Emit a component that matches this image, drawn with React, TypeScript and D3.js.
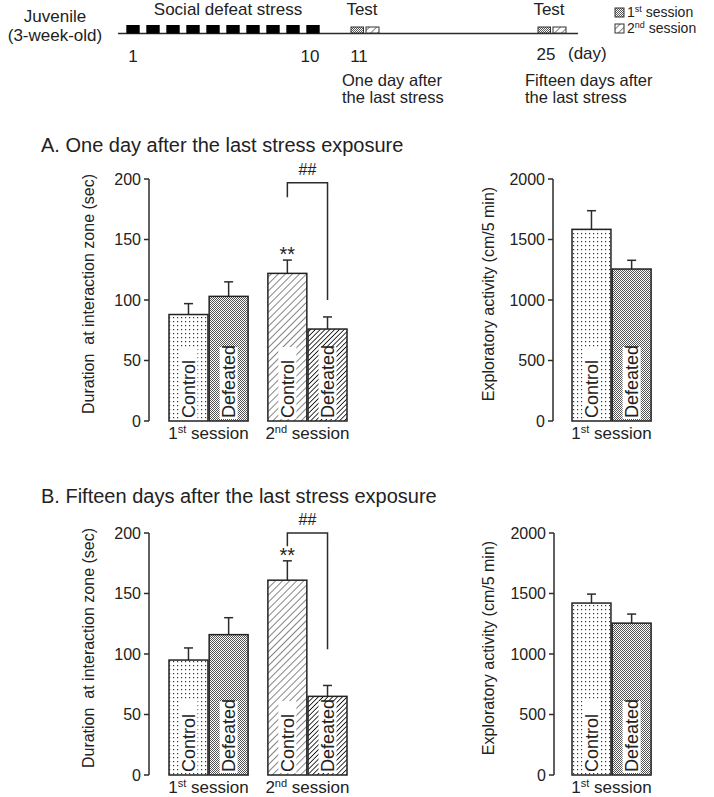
import React from "react";
import * as d3 from "d3";

// ---------- data ----------
const groups = ["Control", "Defeated"];
const sessions = ["1st", "2nd"];
const sessionSup = ["st", "nd"];

const durMeanA = [88, 103, 122, 76];
const durErrA = [9, 12, 11, 10];
const expMeanA = [1584, 1256];
const expErrA = [154, 72];

const durMeanB = [95, 116, 161, 65];
const durErrB = [10, 14, 16, 9];
const expMeanB = [1421, 1255];
const expErrB = [74, 75];

const durTicks = [0, 50, 100, 150, 200];
const expTicks = [0, 500, 1000, 1500, 2000];

// bracket [top, left leg bottom, right leg bottom]
const bracketA = [197, 185, 100];
const bracketB = [200, 189, 104];

const stressDays = [1, 2, 3, 4, 5, 6, 7, 8, 9, 10];
const dayLabels = [1, 10, 11, 25];
const testDays = [11, 25];

const FONT = "'Liberation Sans', Arial, sans-serif";
const INK = "#2b2b2b";

const patternFor = (s: number, g: number) =>
  s === 0 ? (g === 0 ? "url(#dotsSparse)" : "url(#dotsDense)") : g === 0 ? "url(#hatchSparse)" : "url(#hatchDense)";

function Defs() {
  return (
    <defs>
      <pattern id="dotsSparse" width="4" height="4" patternUnits="userSpaceOnUse">
        <rect width="4" height="4" fill="#fff" />
        <rect x="1" y="1" width="1.2" height="1.2" fill="#333" />
      </pattern>
      <pattern id="dotsDense" width="2" height="2" patternUnits="userSpaceOnUse">
        <rect width="2" height="2" fill="#fff" />
        <rect x="0" y="0" width="1" height="1" fill="#555" />
        <rect x="1" y="1" width="1" height="1" fill="#555" />
      </pattern>
      <pattern id="hatchSparse" width="5" height="5" patternUnits="userSpaceOnUse" patternTransform="rotate(45)">
        <rect width="5" height="5" fill="#fff" />
        <line x1="0" y1="0" x2="0" y2="5" stroke="#333" strokeWidth="1.2" />
      </pattern>
      <pattern id="hatchDense" width="3.4" height="3.4" patternUnits="userSpaceOnUse" patternTransform="rotate(45)">
        <rect width="3.4" height="3.4" fill="#fff" />
        <line x1="0" y1="0" x2="0" y2="3.4" stroke="#111" strokeWidth="1.7" />
      </pattern>
    </defs>
  );
}

type PanelProps = {
  axisX: number;
  yTop: number;
  yBottom: number;
  x0: number;
  x1: number;
  nSessions: number;
  means: number[];
  errs: number[];
  ticks: number[];
  yLabel: string;
  yLabelX: number;
  bracket?: number[];
};

function Panel(p: PanelProps) {
  const max = p.ticks[p.ticks.length - 1];
  const y = d3.scaleLinear().domain([0, max]).range([p.yBottom, p.yTop]);
  const sess = sessions.slice(0, p.nSessions);
  const outer = d3.scaleBand<string>().domain(sessions).range([p.x0, p.x1]).paddingInner(0.2).paddingOuter(0);
  const inner = d3.scaleBand<string>().domain(groups).range([0, outer.bandwidth()]).paddingInner(0.03);
  const bars: { s: number; g: number; x: number; w: number; v: number; e: number }[] = [];
  sess.forEach((s, si) =>
    groups.forEach((g, gi) => {
      const i = si * 2 + gi;
      bars.push({ s: si, g: gi, x: (outer(s) as number) + (inner(g) as number), w: inner.bandwidth(), v: p.means[i], e: p.errs[i] });
    })
  );
  const midY = (p.yTop + p.yBottom) / 2 - 6;
  return (
    <g fontFamily={FONT}>
      {/* y axis */}
      <line x1={p.axisX} x2={p.axisX} y1={y(0)} y2={y(max)} stroke={INK} strokeWidth={1.5} />
      {p.ticks.map((t) => (
        <g key={t}>
          <line x1={p.axisX - 5} x2={p.axisX} y1={y(t)} y2={y(t)} stroke={INK} strokeWidth={1.5} />
          <text x={p.axisX - 8} y={y(t)} dy="0.36em" textAnchor="end" fontSize={16} fill="#222">
            {t}
          </text>
        </g>
      ))}
      <text
        transform={`translate(${p.yLabelX},${midY}) rotate(-90)`}
        textAnchor="middle"
        dy="0.35em"
        fontSize={16}
        fill="#222"
        xmlSpace="preserve"
      >
        {p.yLabel}
      </text>
      {/* bars */}
      {bars.map((b, i) => {
        const cx = b.x + b.w / 2;
        return (
          <g key={i}>
            <line x1={cx} x2={cx} y1={y(b.v)} y2={y(b.v + b.e)} stroke={INK} strokeWidth={1.5} />
            <line x1={cx - 4.5} x2={cx + 4.5} y1={y(b.v + b.e)} y2={y(b.v + b.e)} stroke={INK} strokeWidth={1.5} />
            <rect x={b.x} y={y(b.v)} width={b.w} height={y(0) - y(b.v)} fill={patternFor(b.s, b.g)} stroke="#222" strokeWidth={1.5} />
            <rect x={cx - 9} y={y(0) - 74} width={18} height={72} fill="#fff" />
            <text
              transform={`translate(${cx},${y(0) - 3}) rotate(-90)`}
              dy="0.36em"
              textAnchor="start"
              fontSize={18}
              fill="#222"
            >
              {groups[b.g]}
            </text>
          </g>
        );
      })}
      {/* session labels */}
      {sess.map((s, si) => (
        <text
          key={s}
          x={(outer(s) as number) + outer.bandwidth() / 2}
          y={y(0) + 18}
          textAnchor="middle"
          fontSize={17}
          fill="#222"
        >
          {s.slice(0, 1)}
          <tspan fontSize={11} dy={-6}>
            {sessionSup[si]}
          </tspan>
          <tspan dy={6}> session</tspan>
        </text>
      ))}
      {/* significance */}
      {p.bracket && p.nSessions > 1 && (() => {
        const c = bars[2];
        const d = bars[3];
        const lx = c.x + c.w / 2;
        const rx = d.x + d.w / 2;
        const [top, lb, rb] = p.bracket!;
        return (
          <g>
            <path
              d={`M${lx},${y(lb)}V${y(top)}H${rx}V${y(rb)}`}
              fill="none"
              stroke={INK}
              strokeWidth={1.5}
            />
            <text x={(lx + rx) / 2} y={y(top) - 8} textAnchor="middle" fontSize={16} fill="#222">
              ##
            </text>
            <text x={lx} y={y(c.v + c.e) + 1} textAnchor="middle" fontSize={20} fill="#222">
              **
            </text>
          </g>
        );
      })()}
    </g>
  );
}

function Timeline() {
  const dayX = d3.scaleLinear().domain([1, 10, 11, 25]).range([133, 313, 365, 552]);
  const lineY = 33.5;
  return (
    <g fontFamily={FONT} fill="#222">
      <text x={55} y={22} textAnchor="middle" fontSize={17}>Juvenile</text>
      <text x={55} y={41} textAnchor="middle" fontSize={17}>(3-week-old)</text>
      <text x={228} y={15} textAnchor="middle" fontSize={17}>Social defeat stress</text>
      <line x1={118} x2={578} y1={lineY} y2={lineY} stroke={INK} strokeWidth={1.5} />
      {stressDays.map((d) => (
        <rect key={d} x={dayX(d) - 6.7} y={25} width={13.4} height={8.5} fill="#000" />
      ))}
      {testDays.map((d) => (
        <g key={d}>
          <text x={dayX(d) - 3} y={15} textAnchor="middle" fontSize={17}>Test</text>
          <rect x={dayX(d) - 14} y={27} width={12.5} height={6} fill="url(#dotsDense)" stroke="#333" strokeWidth={1} />
          <rect x={dayX(d) + 1} y={27} width={13} height={6} fill="url(#hatchSparse)" stroke="#333" strokeWidth={1} />
        </g>
      ))}
      {dayLabels.map((d) => (
        <text key={d} x={d === 1 ? dayX(d) : dayX(d) - (d >= 11 ? 6 : 3)} y={d === 25 ? 60 : 62} textAnchor="middle" fontSize={17}>
          {d}
        </text>
      ))}
      <text x={568} y={59} fontSize={17}>(day)</text>
      <text x={342} y={86} fontSize={16.5}>One day after</text>
      <text x={342} y={103} fontSize={16.5}>the last stress</text>
      <text x={525} y={86} fontSize={16.5}>Fifteen days after</text>
      <text x={525} y={103} fontSize={16.5}>the last stress</text>
      {/* legend */}
      {sessions.map((s, i) => (
        <g key={s}>
          <rect x={615} y={8 + i * 16} width={9} height={9} fill={i === 0 ? "url(#dotsDense)" : "url(#hatchSparse)"} stroke="#333" strokeWidth={1} />
          <text x={627} y={17 + i * 16} fontSize={14}>
            {s.slice(0, 1)}
            <tspan fontSize={9} dy={-5}>{sessionSup[i]}</tspan>
            <tspan dy={5}> session</tspan>
          </text>
        </g>
      ))}
    </g>
  );
}

export default function App() {
  return (
    <svg
      width={714}
      height={797}
      style={{ position: "absolute", left: 0, top: 0, background: "#fff", display: "block" }}
    >
      <Defs />
      <rect width={714} height={797} fill="#fff" />
      <Timeline />
      <text x={41} y={152} fontFamily={FONT} fontSize={20} fill="#222">
        A. One day after the last stress exposure
      </text>
      <text x={41} y={503} fontFamily={FONT} fontSize={20} fill="#222">
        B. Fifteen days after the last stress exposure
      </text>
      <Panel axisX={149} yTop={179} yBottom={421} x0={169} x1={347} nSessions={2}
        means={durMeanA} errs={durErrA} ticks={durTicks} yLabel="Duration  at interaction zone (sec)" yLabelX={88} bracket={bracketA} />
      <Panel axisX={553} yTop={179} yBottom={421} x0={572} x1={750} nSessions={1}
        means={expMeanA} errs={expErrA} ticks={expTicks} yLabel="Exploratory activity (cm/5 min)" yLabelX={488} />
      <Panel axisX={149} yTop={533} yBottom={775} x0={169} x1={347} nSessions={2}
        means={durMeanB} errs={durErrB} ticks={durTicks} yLabel="Duration  at interaction zone (sec)" yLabelX={88} bracket={bracketB} />
      <Panel axisX={554} yTop={533} yBottom={775} x0={572} x1={750} nSessions={1}
        means={expMeanB} errs={expErrB} ticks={expTicks} yLabel="Exploratory activity (cm/5 min)" yLabelX={488} />
    </svg>
  );
}
